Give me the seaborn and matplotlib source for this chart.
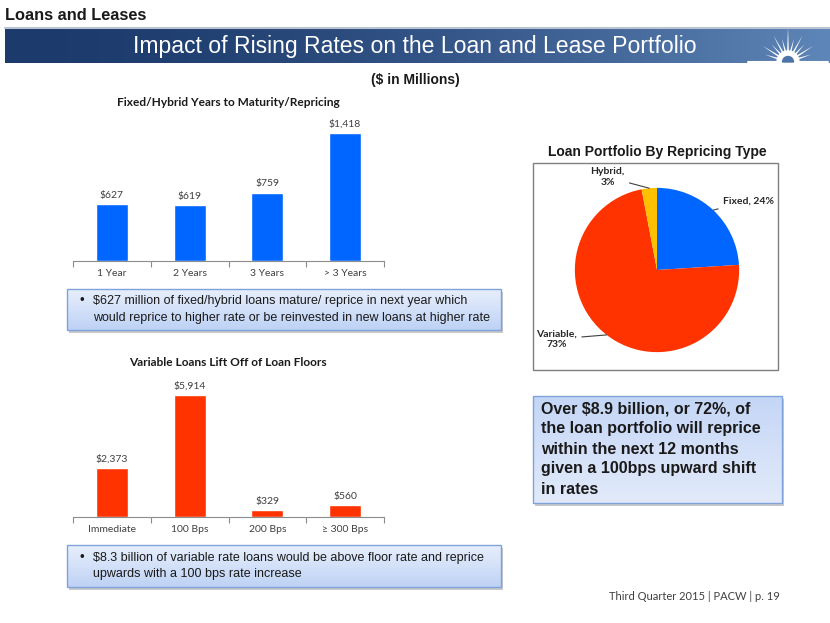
import numpy as np
import pandas as pd
import matplotlib
matplotlib.use("Agg")
import matplotlib.pyplot as plt
import seaborn as sns
from matplotlib.patches import Rectangle, Polygon, Wedge

# ---- data ($ in millions) ----
maturity_buckets = ["1 Year", "2 Years", "3 Years", "> 3 Years"]
maturity_values = [627, 619, 759, 1418]

floor_buckets = ["Immediate", "100 Bps", "200 Bps", "≥ 300 Bps"]
floor_values = [2373, 5914, 329, 560]

pie_types = ["Fixed", "Variable", "Hybrid"]
pie_shares = [24, 73, 3]

BLUE, RED, GOLD = "#0066FF", "#FF3300", "#FFC000"
W, H = 830, 623

sns.set_theme(style="white")
plt.rcParams["font.family"] = ["Liberation Sans", "DejaVu Sans"]
CHART_FONT = ["Lato", "DejaVu Sans"]

fig = plt.figure(figsize=(8.3, 6.23), dpi=100)
fig.patch.set_facecolor("white")

# background axes in pixel coords (y down) for slide decorations
bg = fig.add_axes([0, 0, 1, 1])
bg.set_axis_off()


def px_axes(x0, y0, x1, y1):
    return fig.add_axes([x0 / W, 1 - y1 / H, (x1 - x0) / W, (y1 - y0) / H])


# header
bg.text(5, 15, "Loans and Leases", fontsize=11.8, fontweight="bold",
        color="#1a1a1a", va="center", ha="left")
bg.plot([5, 830], [28, 28], color="#b8c2d0", lw=1.5, zorder=2)
t = np.linspace(0, 1, 256) ** 1.6
c0 = np.array([0x1c, 0x3a, 0x6c]) / 255
c1 = np.array([0x5f, 0x86, 0xb8]) / 255
bg.imshow((c0 + (c1 - c0) * t[:, None])[None, :, :], extent=(5, 830, 63, 29),
          aspect="auto", zorder=1)
bg.text(415, 46, "Impact of Rising Rates on the Loan and Lease Portfolio", fontsize=16.6,
        color="white", ha="center", va="center", zorder=3)

# sunburst logo
cx, cy = 788, 62
for i, a in enumerate(np.linspace(18, 162, 11)):
    L = 35 if i == 5 else (30 if i % 2 == 1 else 24)
    r = np.deg2rad(a)
    hw = np.deg2rad(6)
    pts = [(cx + 9 * np.cos(r - hw), cy - 9 * np.sin(r - hw)),
           (cx + L * np.cos(r), cy - L * np.sin(r)),
           (cx + 9 * np.cos(r + hw), cy - 9 * np.sin(r + hw))]
    bg.add_patch(Polygon(pts, closed=True, color="white", zorder=3, lw=0))
bg.add_patch(Wedge((cx, cy), 11, 180, 360, color="white", zorder=3))
bg.add_patch(Wedge((cx, cy), 5.5, 180, 360, color="#4d74a6", zorder=4))
bg.plot([748, 828], [cy - 0.5, cy - 0.5], color="white", lw=1.5, zorder=3)

bg.text(415, 80, "($ in Millions)", fontsize=10, fontweight="bold",
        color="#1a1a1a", ha="center", va="center")


def note_box(x0, y0, x1, y1, top, bottom):
    bg.add_patch(Rectangle((x0 + 2, y0 + 3), x1 - x0, y1 - y0, color="#c9c9c9", zorder=2, lw=0))
    col = np.linspace(np.array(top) / 255, np.array(bottom) / 255, 64)[:, None, :]
    bg.imshow(col, extent=(x0, x1, y1, y0), aspect="auto", zorder=3)
    bg.add_patch(Rectangle((x0, y0), x1 - x0, y1 - y0, fill=False, ec="#7ea2da", lw=1, zorder=4))


def bullet_note(x0, y0, x1, y1, lines):
    note_box(x0, y0, x1, y1, (232, 239, 252), (190, 210, 245))
    mid = (y0 + y1) / 2
    ys = [mid - 8.5, mid + 8.5]
    bg.text(79, ys[0], "•", fontsize=9.5, color="#1a1a1a", va="center", zorder=5)
    for y, s in zip(ys, lines):
        bg.text(93, y, s, fontsize=9, color="#1a1a1a", va="center", zorder=5)


def draw_bars(rect, cats, vals, color, ymax, title, title_xy):
    ax = px_axes(*rect)
    df = pd.DataFrame({"bucket": cats, "value": vals})
    sns.barplot(data=df, x="bucket", y="value", color=color, width=0.41,
                saturation=1, ax=ax)
    ax.set_xlim(-0.5, len(cats) - 0.5)
    ax.set_ylim(0, ymax)
    ax.bar_label(ax.containers[0], labels=[f"${v:,}" for v in vals], padding=3,
                 fontsize=7.5, color="#404040", family=CHART_FONT)
    ax.patch.set_alpha(0)
    for s in ["left", "top", "right"]:
        ax.spines[s].set_visible(False)
    ax.spines["bottom"].set_color("#8c8c8c")
    ax.spines["bottom"].set_linewidth(0.8)
    ax.set_yticks([])
    ax.set_xlabel("")
    ax.set_ylabel("")
    ax.set_xticks(range(len(cats)))
    ax.set_xticklabels(cats, fontsize=7.5, color="#404040", family=CHART_FONT)
    ax.set_xticks(np.arange(-0.5, len(cats)), minor=True)
    ax.tick_params(axis="x", which="major", length=0, pad=6, bottom=True)
    ax.tick_params(axis="x", which="minor", length=4, width=0.8, color="#8c8c8c", bottom=True)
    bg.text(*title_xy, title, fontsize=8.6, fontweight="bold", family=CHART_FONT,
            color="#1a1a1a", ha="center", va="center")
    return ax


draw_bars((73, 115, 384, 261), maturity_buckets, maturity_values, BLUE, 1620,
          "Fixed/Hybrid Years to Maturity/Repricing", (228, 103))
bullet_note(67, 289, 501, 330,
            ["$627 million of fixed/hybrid loans mature/ reprice in next year which",
             "would reprice to higher rate or be reinvested in new loans at higher rate"])

draw_bars((73, 375, 384, 517), floor_buckets, floor_values, RED, 6880,
          "Variable Loans Lift Off of Loan Floors", (228, 362))
bullet_note(67, 545, 501, 587,
            ["$8.3 billion of variable rate loans would be above floor rate and reprice",
             "upwards with a 100 bps rate increase"])

# pie chart panel
bg.text(657, 152, "Loan Portfolio By Repricing Type", fontsize=10, fontweight="bold",
        color="#1a1a1a", ha="center", va="center")
bg.add_patch(Rectangle((533, 163), 245, 207, fc="white", ec="#7f7f7f", lw=1, zorder=2))
pax = px_axes(657 - 115, 270 - 115, 657 + 115, 270 + 115)
wedges, _ = pax.pie(pie_shares, colors=[BLUE, RED, GOLD], startangle=90,
                    counterclock=False, radius=1, wedgeprops=dict(linewidth=0))
pax.set_xlim(-1.4, 1.4)
pax.set_ylim(-1.4, 1.4)
pax.set_aspect("equal")
pax.set_axis_off()

label_sep = [" ", "\n", "\n"]
label_pos = [(0.80, 0.84), (-1.22, -0.84), (-0.60, 1.13)]
label_ha = ["left", "center", "center"]
for w, name, share, sep, pos, ha in zip(wedges, pie_types, pie_shares, label_sep, label_pos, label_ha):
    mid = np.deg2rad((w.theta1 + w.theta2) / 2)
    pax.annotate(f"{name},{sep}{share}%", xy=(np.cos(mid), np.sin(mid)), xytext=pos,
                 ha=ha, va="center", fontsize=7.5, fontweight="bold", family=CHART_FONT,
                 color="#262626", linespacing=1.25,
                 arrowprops=dict(arrowstyle="-", color="#404040", lw=0.8,
                                 shrinkA=1, shrinkB=0))

# summary box
note_box(533, 396, 782, 503, (196, 214, 246), (226, 234, 250))
summary = ["Over $8.9 billion, or 72%, of", "the loan portfolio will reprice",
           "within the next 12 months", "given a 100bps upward shift", "in rates"]
for i, s in enumerate(summary):
    bg.text(541, 409 + i * 20, s, fontsize=11.5, fontweight="bold", color="#1a1a1a",
            va="center", ha="left", zorder=5)

bg.text(780, 597, "Third Quarter 2015 | PACW | p. 19", fontsize=8, family=CHART_FONT,
        color="#404040", ha="right", va="center")

bg.set_xlim(0, W)
bg.set_ylim(H, 0)

fig.savefig("out.png", dpi=100)
